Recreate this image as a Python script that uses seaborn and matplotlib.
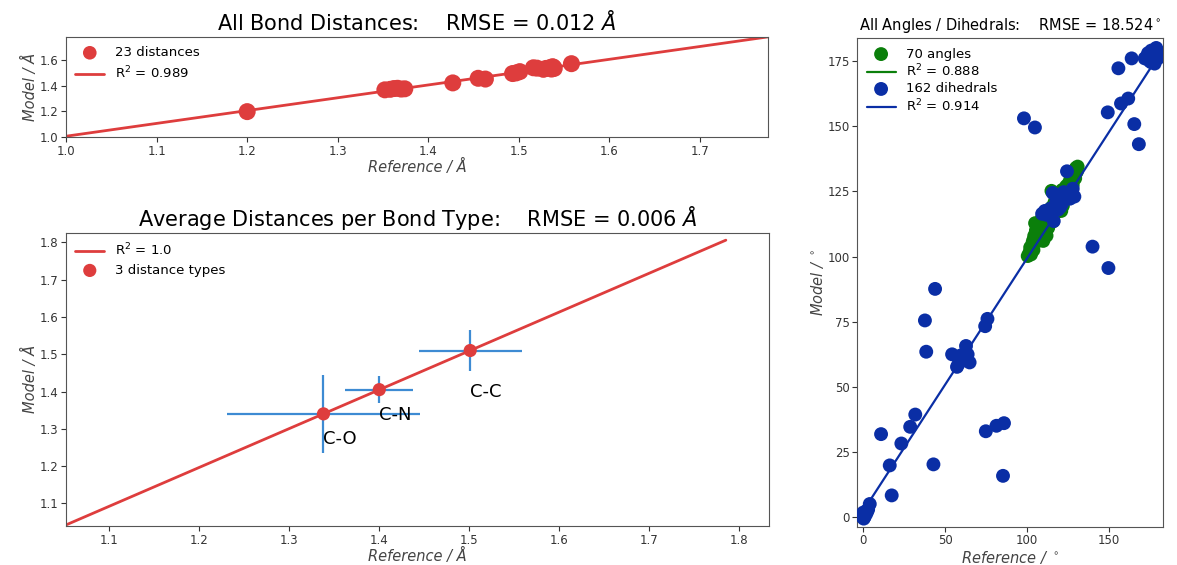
import numpy as np
import pandas as pd
import matplotlib
matplotlib.use("Agg")
import matplotlib.pyplot as plt
import seaborn as sns

# bond distances (reference vs model), Angstrom
bond_ref = [1.200, 1.352, 1.358, 1.362, 1.366, 1.370, 1.374, 1.427, 1.455, 1.463,
            1.493, 1.497, 1.501, 1.516, 1.520, 1.527, 1.530, 1.534, 1.536, 1.537,
            1.538, 1.539, 1.558]
bond_mod = [1.198, 1.368, 1.372, 1.378, 1.380, 1.374, 1.376, 1.422, 1.458, 1.452,
            1.495, 1.500, 1.510, 1.540, 1.537, 1.528, 1.535, 1.540, 1.530, 1.548,
            1.545, 1.535, 1.572]
bond_line_x = [1.0, 1.8]

# averages per bond type
type_names = ["C-O", "C-N", "C-C"]
type_ref = [1.338, 1.400, 1.501]
type_mod = [1.340, 1.405, 1.510]
type_xerr = [0.107, 0.038, 0.057]
type_yerr = [0.105, 0.037, 0.055]
type_line_x = [1.0, 1.785]

# angles (degrees)
angle_ref = [100.5, 101.5, 102, 102.5, 103, 103.5, 104, 104.5, 105, 105.5,
             106, 106.5, 107, 107.5, 108, 108.5, 109, 109.5, 110, 110.5,
             111, 111.5, 112, 112.5, 113, 113.5, 114, 114.5, 115, 115.5,
             116, 116.5, 117, 117.5, 118, 118.5, 119, 119.5, 120, 120.5,
             121, 121.5, 122, 122.5, 123, 123.5, 124, 124.5, 125, 125.5,
             126, 126.5, 127, 127.5, 128, 128.5, 129, 129.5, 130, 130.5,
             131, 115, 110, 112, 105, 104, 118, 121, 107, 109]
angle_mod = [100.2, 101.5, 103.5, 100.8, 104, 105.5, 106.5, 108, 107.5, 110,
             109, 111.5, 112.5, 108.5, 110.5, 113, 114.5, 107.5, 111, 112,
             109.5, 113.5, 115, 116.5, 111, 117.5, 116, 118.5, 117, 119,
             113.5, 120, 121, 118, 122, 120.5, 123, 117.5, 121.5, 124,
             122.5, 125.5, 119.5, 123.5, 126, 124.5, 127, 122.5, 125.5, 128,
             126.5, 129.5, 128, 130.5, 127.5, 131.5, 133, 130, 134, 132.5,
             134.5, 125.2, 106, 108, 112.8, 102.5, 117, 117.5, 106, 112]

# dihedrals (degrees)
dihed_ref = [0, -1, 0.5, 1.5, 2, 1, 0, 2.5, 4, 3, 0.3,
             16.2, 17.4, 10.9, 23.3, 28.7, 31.8, 42.9, 37.7, 38.5, 43.9,
             54.3, 57.3, 58.3, 59.7, 62.8, 63.8, 65.0, 61, 74.5, 75.9,
             74.9, 81.4, 86.0, 85.4,
             98.2, 104.9, 140.1, 149.8,
             115.8, 122.5, 127.5, 126.3, 120.4, 114.4, 109.3, 116.4, 121.5, 125.5,
             124.5, 112, 118, 128, 129, 111, 123, 119,
             149.4, 155.9, 164.0, 157.5, 161.9, 165.6, 168.4,
             172, 174, 175, 176, 177, 178, 179, 180, 176, 173, 178, 180, 177, 175]
dihed_mod = [0, 0.5, 1, 2.2, 1.5, 0.3, 1.8, 2.5, 5.1, 3, -0.5,
             19.9, 8.4, 31.9, 28.3, 34.7, 39.4, 20.3, 75.5, 63.5, 87.6,
             62.5, 57.7, 58.9, 62.1, 65.7, 62.5, 59.4, 61, 73.3, 76.1,
             33.0, 35.1, 36.1, 15.9,
             153.0, 149.5, 103.8, 95.6,
             124.4, 124.7, 124.4, 122.2, 119.0, 118.4, 116.4, 113.6, 120.3, 122.8,
             132.7, 116, 121, 126, 123, 117.5, 123, 118,
             155.3, 172.2, 176.0, 158.7, 160.6, 150.8, 143.1,
             176, 178, 177, 179, 175.5, 177, 180, 178.5, 174.5, 176.5, 174, 176, 178, 175]

red = "#de3d3d"
err_blue = "#3d8bd3"
ang_green = "#0b7f0b"
dih_blue = "#0a2ea5"

sns.set_style("ticks")
plt.rcParams["font.family"] = ["DejaVu Sans"]
plt.rcParams["axes.edgecolor"] = "#555555"
plt.rcParams["text.color"] = "black"

fig = plt.figure(figsize=(11.77, 5.65), dpi=100)
ax1 = fig.add_axes([0.0561, 0.7575, 0.5964, 0.177])
ax2 = fig.add_axes([0.0561, 0.069, 0.5973, 0.519])
ax3 = fig.add_axes([0.7284, 0.0678, 0.2595, 0.8644])

label_kw = dict(fontsize=10.5, style="italic", color="#444444", labelpad=1)


def fit_line(x, y, xs):
    k, b = np.polyfit(x, y, 1)
    xs = np.linspace(xs[0], xs[-1], 50)
    return pd.DataFrame({"x": xs, "y": k * xs + b})


# --- top left: all bond distances
df_b = pd.DataFrame({"ref": bond_ref, "mod": bond_mod})
sns.scatterplot(data=df_b, x="ref", y="mod", ax=ax1, color=red, s=150,
                edgecolor="none", label="23 distances", zorder=3)
ln = fit_line(bond_ref, bond_mod, bond_line_x)
sns.lineplot(data=ln, x="x", y="y", ax=ax1, color=red, lw=2,
             label="R$^2$ = 0.989")
ax1.set_xlim(1.0, 1.775)
ax1.set_ylim(1.0, 1.78)
ax1.set_yticks([1.0, 1.2, 1.4, 1.6])
ax1.set_title("All Bond Distances:    RMSE = 0.012 $\\AA$", fontsize=15,
              pad=5, color="black")
ax1.set_xlabel("Reference / Å", **label_kw)
ax1.set_ylabel("Model / Å", **label_kw)
ax1.legend(loc="upper left", frameon=False, fontsize=9.5, handlelength=2.2,
           borderaxespad=0.3, labelspacing=0.4, markerscale=0.8)

# --- bottom left: per bond type
ln2 = fit_line(type_ref, type_mod, type_line_x)
sns.lineplot(data=ln2, x="x", y="y", ax=ax2, color=red, lw=2,
             label="R$^2$ = 1.0")
ax2.errorbar(type_ref, type_mod, xerr=type_xerr, yerr=type_yerr, fmt="none",
             ecolor=err_blue, elinewidth=1.6, zorder=2)
df_t = pd.DataFrame({"ref": type_ref, "mod": type_mod})
sns.scatterplot(data=df_t, x="ref", y="mod", ax=ax2, color=red, s=90,
                edgecolor="none", label="3 distance types", zorder=4)
label_shift = [-18, -18, -30]
for name, xv, yv, dy in zip(type_names, type_ref, type_mod, label_shift):
    ax2.annotate(name, (xv, yv), xytext=(0, dy), textcoords="offset points",
                 fontsize=13, ha="left", va="center", color="black")
ax2.set_xlim(1.052, 1.833)
ax2.set_ylim(1.039, 1.826)
ax2.set_title("Average Distances per Bond Type:    RMSE = 0.006 $\\AA$",
              fontsize=15, pad=5, color="black")
ax2.set_xlabel("Reference / Å", **label_kw)
ax2.set_ylabel("Model / Å", **label_kw)
ax2.legend(loc="upper left", frameon=False, fontsize=9.5, handlelength=2.2,
           borderaxespad=0.3, labelspacing=0.4)

# --- right: angles and dihedrals
df_a = pd.DataFrame({"ref": angle_ref, "mod": angle_mod})
df_d = pd.DataFrame({"ref": dihed_ref, "mod": dihed_mod})
sns.scatterplot(data=df_a, x="ref", y="mod", ax=ax3, color=ang_green, s=100,
                edgecolor="none", label="70 angles", zorder=3)
lna = fit_line(angle_ref, angle_mod, [min(angle_ref), max(angle_ref)])
sns.lineplot(data=lna, x="x", y="y", ax=ax3, color=ang_green, lw=1.6,
             label="R$^2$ = 0.888")
sns.scatterplot(data=df_d, x="ref", y="mod", ax=ax3, color=dih_blue, s=100,
                edgecolor="none", label="162 dihedrals", zorder=3)
lnd = fit_line(dihed_ref, dihed_mod, [min(dihed_ref), max(dihed_ref)])
sns.lineplot(data=lnd, x="x", y="y", ax=ax3, color=dih_blue, lw=1.6,
             label="R$^2$ = 0.914", zorder=4)
ax3.set_xlim(-3.6, 183)
ax3.set_ylim(-3.6, 183.7)
ax3.set_xticks([0, 50, 100, 150])
ax3.set_yticks([0, 25, 50, 75, 100, 125, 150, 175])
ax3.set_title("All Angles / Dihedrals:    RMSE = 18.524$^\\circ$", fontsize=10.5,
              pad=6, color="black")
ax3.set_xlabel("Reference / $^\\circ$", **label_kw)
ax3.set_ylabel("Model / $^\\circ$", **label_kw)
ax3.legend(loc="upper left", frameon=False, fontsize=9.5, handlelength=2.2,
           borderaxespad=0.3, labelspacing=0.2)

for ax in (ax1, ax2, ax3):
    ax.tick_params(labelsize=8.5, colors="#333333", length=3.5, pad=2)
    for sp in ax.spines.values():
        sp.set_visible(True)

fig.savefig("out.png", dpi=100)
